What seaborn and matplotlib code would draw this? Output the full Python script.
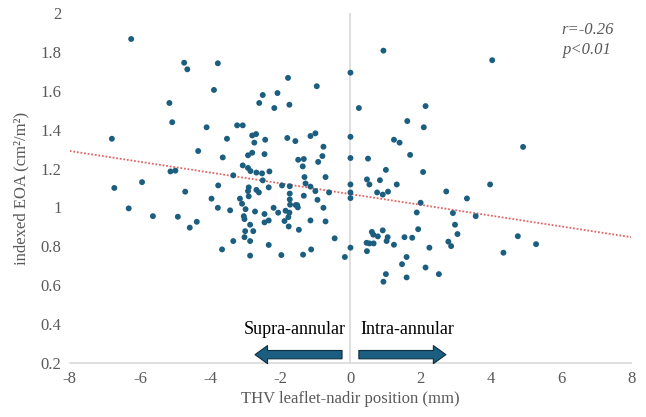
import matplotlib
matplotlib.use("Agg")
import matplotlib.pyplot as plt
import seaborn as sns
import pandas as pd

# leaflet-nadir position (mm) and indexed EOA (cm2/m2)
nadir_mm = [
    -6.25, -4.74, -4.65, -3.78, -1.78, -0.96, -3.89, -2.50, -2.08, -2.60,
    -2.17, -1.74, -5.16, -5.08, -6.80, -4.10, -3.23, -3.07, -3.52, -2.80,
    -2.69, -2.43, -2.74, -1.80, -1.57, -1.14, -1.00, -0.77, -4.34, -2.80,
    -2.92, -2.45, -3.64, -1.49, -1.33, -0.80, -0.92, -1.36, -3.07, -2.92,
    -2.85, -2.68, -2.52, -2.31, -5.13, -4.99, -3.34, -2.50, -1.31, -0.71,
    -1.28, -1.14, -1.95, -1.73, -2.90, -2.33, -3.77, -5.94, -6.73, -4.71,
    -2.92, -2.68, -2.61, -1.73, -1.00, -0.61, -1.33, -2.90, -3.96, -3.15,
    -1.73, -0.94, -3.09, -6.32, -5.63, -4.92, -4.38, -4.58, -3.78, -3.43,
    -2.99, -2.72, -2.45, -2.19, -2.06, -1.85, -1.74, -1.77, -1.72, -1.56,
    -1.52, -1.50, -0.77, -3.04, -3.02, -2.45, -2.33, -1.88, -1.76, -2.86,
    -3.00, -2.77, -3.02, -2.86, -3.34, -1.14, -0.71, -1.47, -0.45, -0.16,
    -3.66, -2.33, -2.86, -1.97, -1.35, -1.12,
    0.0, 0.0, 0.0, 0.0, 0.0, 0.0, 0.0,
    0.24, 0.94, 4.04, 2.14, 1.62, 2.09, 1.24, 1.40, 4.92, 0.50,
    1.70, 1.01, 2.07, 0.47, 0.54, 0.84, 1.32, 3.98, 0.76, 0.92,
    1.07, 2.73, 3.32, 2.00, 1.89, 2.92, 3.57, 2.98, 3.05, 1.93,
    0.61, 0.65, 0.92, 0.78, 1.06, 1.03, 0.46, 0.54, 0.66, 1.54,
    1.76, 1.24, 0.47, 2.25, 2.79, 2.87, 4.77, 5.29, 4.36, 1.60,
    1.47, 2.14, 2.52, 1.01, 1.60, 0.94,
]
indexed_eoa = [
    1.866, 1.744, 1.710, 1.741, 1.666, 1.623, 1.604, 1.578, 1.588, 1.537,
    1.511, 1.528, 1.537, 1.438, 1.353, 1.412, 1.422, 1.422, 1.353, 1.370,
    1.377, 1.348, 1.333, 1.357, 1.341, 1.367, 1.381, 1.312, 1.290, 1.281,
    1.268, 1.274, 1.257, 1.245, 1.249, 1.264, 1.234, 1.211, 1.216, 1.203,
    1.187, 1.179, 1.175, 1.185, 1.185, 1.189, 1.165, 1.139, 1.156, 1.156,
    1.123, 1.107, 1.113, 1.109, 1.103, 1.103, 1.113, 1.130, 1.100, 1.081,
    1.084, 1.090, 1.077, 1.071, 1.084, 1.077, 1.060, 1.057, 1.045, 1.045,
    1.041, 1.039, 1.019, 0.995, 0.955, 0.952, 0.926, 0.896, 0.998, 0.985,
    0.991, 0.979, 0.966, 0.998, 0.973, 0.983, 0.973, 0.950, 1.014, 1.012,
    1.012, 1.000, 0.998, 0.955, 0.940, 0.923, 0.933, 0.930, 0.902, 0.911,
    0.878, 0.878, 0.847, 0.827, 0.827, 0.933, 0.928, 0.885, 0.841, 0.745,
    0.784, 0.807, 0.752, 0.755, 0.757, 0.784,
    1.693, 1.363, 1.254, 1.118, 1.077, 1.048, 0.793,
    1.511, 1.806, 1.757, 1.521, 1.444, 1.412, 1.348, 1.333, 1.311, 1.251,
    1.270, 1.193, 1.182, 1.144, 1.118, 1.140, 1.118, 1.118, 1.077, 1.066,
    1.081, 1.082, 1.046, 1.024, 0.974, 0.971, 0.955, 0.911, 0.863, 0.888,
    0.874, 0.860, 0.882, 0.851, 0.847, 0.827, 0.818, 0.815, 0.815, 0.847,
    0.844, 0.808, 0.775, 0.793, 0.824, 0.801, 0.852, 0.811, 0.767, 0.745,
    0.708, 0.691, 0.657, 0.657, 0.640, 0.618,
]

# linear trend line as drawn in the chart
trend_x = [-8, 8]
trend_y = [1.29, 0.847]

df = pd.DataFrame({"nadir": nadir_mm, "eoa": indexed_eoa})
trend = pd.DataFrame({"x": trend_x, "y": trend_y})

sns.set_style("white")
plt.rcParams["font.family"] = ["Liberation Serif", "DejaVu Serif"]
plt.rcParams["axes.unicode_minus"] = False

dot_color = "#1b5e80"
grey = "#595959"

fig = plt.figure(figsize=(6.46, 4.17), dpi=100)
ax = fig.add_axes([0.108, 0.1295, 0.869, 0.8395])

ax.axvline(0, color="#d9d9d9", lw=1.2, zorder=1)
sns.lineplot(data=trend, x="x", y="y", ax=ax, color="#e06666",
             linestyle=(0, (1, 1)), lw=1.3, zorder=2)
sns.scatterplot(data=df, x="nadir", y="eoa", ax=ax, color=dot_color,
                s=18, edgecolor="none", zorder=3)

ax.set_xlim(-8, 8)
ax.set_ylim(0.2, 2)
ax.set_xticks(range(-8, 9, 2))
ax.set_yticks([0.2, 0.4, 0.6, 0.8, 1, 1.2, 1.4, 1.6, 1.8, 2])
ax.set_yticklabels(["0.2", "0.4", "0.6", "0.8", "1", "1.2", "1.4", "1.6", "1.8", "2"])
ax.tick_params(axis="both", length=0, labelsize=12, colors=grey, pad=6)
for side in ["left", "right", "top"]:
    ax.spines[side].set_visible(False)
ax.spines["bottom"].set_color("#d9d9d9")
ax.spines["bottom"].set_linewidth(1.2)

ax.set_xlabel("THV leaflet-nadir position (mm)", fontsize=12, color=grey, labelpad=3)
ax.set_ylabel("indexed EOA (cm²/m²)", fontsize=12, color=grey, labelpad=8)

ax.text(6.0, 1.91, "r=-0.26", style="italic", fontsize=12, color=grey, va="center")
ax.text(6.05, 1.81, "p<0.01", style="italic", fontsize=12, color=grey, va="center")

# direction arrows
arrow_style = dict(arrowstyle="simple,head_length=0.9,head_width=1.3,tail_width=0.6",
                   fc=dot_color, ec="#0d2f40", lw=0.8, shrinkA=0, shrinkB=0)
ax.annotate("", xy=(-2.72, 0.243), xytext=(-0.24, 0.243), arrowprops=arrow_style)
ax.annotate("", xy=(2.72, 0.243), xytext=(0.24, 0.243), arrowprops=arrow_style)
ax.text(-0.12, 0.37, "Supra-annular", ha="right", va="center", fontsize=13, color="black")
ax.text(0.28, 0.37, "Intra-annular", ha="left", va="center", fontsize=13, color="black")

fig.savefig("out.png", dpi=100)
